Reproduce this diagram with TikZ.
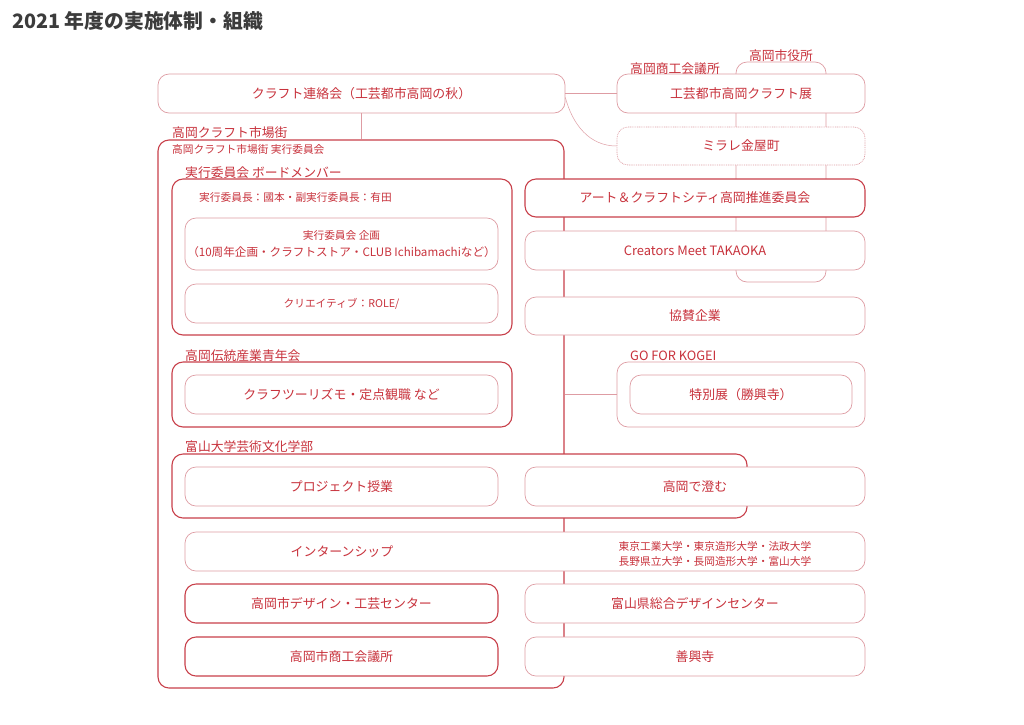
\documentclass[tikz,border=0pt]{standalone}
\usepackage{fontspec}
\setmainfont{Noto Sans CJK JP}
\definecolor{dkred}{HTML}{C8404A}
\definecolor{ltred}{HTML}{DE9CA3}
\definecolor{txtred}{HTML}{C8323C}
\definecolor{ttl}{HTML}{3C3C3C}
\begin{document}
\begin{tikzpicture}[x=1pt,y=-1pt,
 box/.style={rounded corners=11pt, fill=white, inner sep=0pt, text=txtred, font=\fontsize{12.9}{15}\selectfont, align=center},
 dk/.style={box, draw=dkred, line width=1.1pt},
 lt/.style={box, draw=ltred, line width=0.7pt},
 dt/.style={box, draw=ltred, line width=0.7pt, dash pattern=on 0.9pt off 0.9pt},
 lbl/.style={anchor=base west, inner sep=0pt, text=txtred, font=\fontsize{12.8}{15}\selectfont},
 sm/.style={inner sep=0pt, text=txtred, font=\fontsize{10.7}{15}\selectfont, align=center},
 conn/.style={draw=ltred, line width=0.7pt}
]
\useasboundingbox (0,0) rectangle (1024,724);
\fill[white] (0,0) rectangle (1024,724);

\node[anchor=base west, inner sep=0pt, text=ttl, font=\fontsize{19.8}{22}\selectfont\bfseries] (title) at (12,28) {2021 年度の実施体制・組織};

% background containers
\node[dk, minimum width=406, minimum height=548] (ichiba) at (361,414) {};
\node[lt, minimum width=90, minimum height=220] (shiyakusho) at (781,172) {};
\node[lbl, anchor=base] (shiyakushoL) at (781,60) {高岡市役所};

% top row
\node[lt, minimum width=407, minimum height=39] (renraku) at (361.5,93.5) {クラフト連絡会（工芸都市高岡の秋）};
\node[lt, minimum width=248, minimum height=39] (kogei) at (741,93.5) {工芸都市高岡クラフト展};
\node[lbl] (shokoL) at (630,73) {高岡商工会議所};
\node[dt, minimum width=248, minimum height=38] (mirare) at (741,146) {ミラレ金屋町};

\draw[conn] (renraku.east) -- (kogei.west);
\draw[conn, line width=0.5pt] ([yshift=-4pt]renraku.east) to[out=-75,in=180] (mirare.west);
\draw[conn] (renraku.south) -- (renraku.south |- ichiba.north);

% inside ichiba
\node[lbl] (ichibaL) at (172,137) {高岡クラフト市場街};
\node[sm, anchor=base west] (ichibaS) at (172,153) {高岡クラフト市場街 実行委員会};

\node[dk, minimum width=340, minimum height=156] (board) at (342,257) {};
\node[lbl] (boardL) at (185,177) {実行委員会 ボードメンバー};
\node[sm, anchor=base west] (chair) at (199,201) {実行委員長：國本・副実行委員長：有田};
\node[lt, minimum width=313, minimum height=52, font=\fontsize{10.7}{17}\selectfont] (kikaku) at (341.5,244) {実行委員会 企画\\{\fontsize{11.6}{17}\selectfont（10周年企画・クラフトストア・CLUB Ichibamachiなど）}};
\node[lt, minimum width=313, minimum height=39, font=\fontsize{10.7}{15}\selectfont] (role) at (341.5,303.5) {クリエイティブ：ROLE/};

% right column
\node[dk, minimum width=340, minimum height=38] (art) at (695,198) {アート＆クラフトシティ高岡推進委員会};
\node[lt, minimum width=340, minimum height=39] (creators) at (695,250.5) {Creators Meet TAKAOKA};
\node[lt, minimum width=340, minimum height=38] (kyosan) at (695,316) {協賛企業};

% seinen
\node[dk, minimum width=340, minimum height=65] (seinen) at (342,394.5) {};
\node[lbl] (seinenL) at (185,360) {高岡伝統産業青年会};
\node[lt, minimum width=313, minimum height=39] (tourism) at (341.5,394.5) {クラフツーリズモ・定点観職 など};

% go for kogei
\node[lt, minimum width=248, minimum height=65] (gofor) at (741,394.5) {};
\node[lbl] (goforL) at (630,360) {GO FOR KOGEI};
\node[lt, minimum width=222, minimum height=39] (tokubetsu) at (741,394.5) {特別展（勝興寺）};
\draw[conn] (ichiba.east |- gofor.west) -- (gofor.west);

% toyama univ
\node[dk, minimum width=575, minimum height=64] (toyamadai) at (459.5,486) {};
\node[lbl] (toyamadaiL) at (185,451) {富山大学芸術文化学部};
\node[lt, minimum width=313, minimum height=39] (project) at (341.5,486.5) {プロジェクト授業};
\node[lt, minimum width=340, minimum height=39] (sumu) at (695,486.5) {高岡で澄む};

% intern
\node[lt, minimum width=680, minimum height=39] (intern) at (525,551.5) {};
\node[inner sep=0pt, text=txtred, font=\fontsize{12.9}{15}\selectfont] (internT) at (342,551.5) {インターンシップ};
\node[sm] (univs) at (715,553.5) {東京工業大学・東京造形大学・法政大学\\長野県立大学・長岡造形大学・富山大学};

% bottom rows
\node[dk, minimum width=313, minimum height=39] (design) at (341.5,603.5) {高岡市デザイン・工芸センター};
\node[lt, minimum width=340, minimum height=39] (toyamaken) at (695,603.5) {富山県総合デザインセンター};
\node[dk, minimum width=313, minimum height=39] (shoko) at (341.5,656.5) {高岡市商工会議所};
\node[lt, minimum width=340, minimum height=39] (zenkoji) at (695,656.5) {善興寺};
\end{tikzpicture}
\end{document}
